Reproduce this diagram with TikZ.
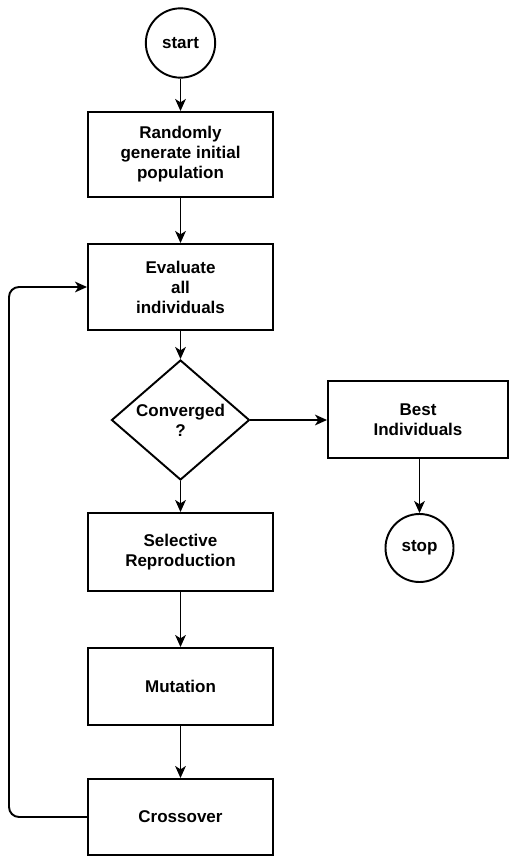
\documentclass[tikz,border=0pt]{standalone}
\usepackage{fontspec}
\setmainfont{Liberation Sans}
\usetikzlibrary{arrows.meta,shapes.geometric}
\begin{document}
\begin{tikzpicture}[x=0.75pt,y=-0.75pt,
  every node/.style={font=\bfseries\fontsize{12.75}{15}\selectfont, align=center, inner sep=0pt},
  procbox/.style={draw, line width=1.45pt, rectangle, minimum width=138.75pt},
  termcircle/.style={draw, line width=1.45pt, circle, minimum size=52pt},
  decide/.style={draw, line width=1.45pt, diamond, minimum width=103.5pt, minimum height=90pt},
  arr/.style={line width=1.45pt, -{Stealth[length=9pt,width=8pt,inset=2.5pt]}}]
\useasboundingbox (0,0) rectangle (509,856);
\node[termcircle] (start) at (180.5,43) {start};
\node[procbox, minimum height=63.75pt] (rand) at (180.5,154.5) {Randomly\\generate initial\\population};
\node[procbox, minimum height=64.5pt] (eval) at (180.5,287) {Evaluate\\all\\individuals};
\node[decide] (conv) at (180.5,420) {};
\node (convtext) at (180.5,420) {Converged\\?};
\node[procbox, minimum width=135pt, minimum height=57.75pt] (best) at (418,419.5) {Best\\Individuals};
\node[termcircle, minimum size=51pt] (stop) at (419.5,548) {stop};
\node[procbox, minimum height=58.5pt] (sel) at (180.5,552) {Selective\\Reproduction};
\node[procbox, minimum height=57.75pt] (mut) at (180.5,686.5) {Mutation};
\node[procbox, minimum height=57pt] (cross) at (180.5,817) {Crossover};
\coordinate (loopx) at (9,0);
\draw[arr] (start) -- (rand);
\draw[arr] (rand) -- (eval);
\draw[arr] (eval) -- (conv);
\draw[arr] (conv.east) -- (conv.east -| best.west);
\draw[arr] (best.south -| stop.north) -- (stop.north);
\draw[arr] (conv) -- (sel);
\draw[arr] (sel) -- (mut);
\draw[arr] (mut) -- (cross);
\draw[arr, rounded corners=7.5pt] (cross.west) -- (cross.west -| loopx) -- (eval.west -| loopx) -- (eval.west);
\end{tikzpicture}
\end{document}
